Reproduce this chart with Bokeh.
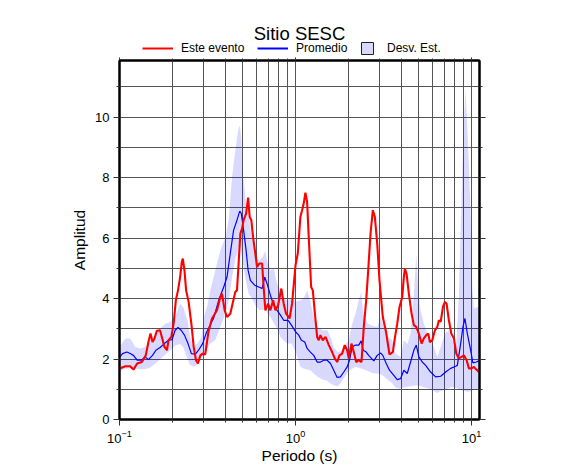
from bokeh.plotting import figure
from bokeh.layouts import column
from bokeh.models import (Range1d, LogAxis, LinearAxis, FixedTicker,
                          Legend, LegendItem, Label)
from bokeh.embed import file_html
from bokeh.resources import INLINE

# ---------------- data ----------------
event_period = [0.100, 0.108, 0.115, 0.120, 0.126, 0.134, 0.141, 0.146, 0.150, 0.154,
                0.158, 0.163, 0.170, 0.174, 0.180, 0.186, 0.190, 0.197, 0.203, 0.209,
                0.215, 0.221, 0.226, 0.229, 0.234, 0.239, 0.247, 0.256, 0.264, 0.272,
                0.279, 0.288, 0.297, 0.307, 0.320, 0.335, 0.358, 0.374, 0.382, 0.396,
                0.408, 0.426, 0.439, 0.455, 0.465, 0.475, 0.486, 0.497, 0.507, 0.524,
                0.538, 0.549, 0.561, 0.574, 0.591, 0.605, 0.623, 0.646, 0.659, 0.674,
                0.699, 0.720, 0.746, 0.769, 0.796, 0.831, 0.857, 0.884, 0.925, 0.956,
                1.00, 1.03, 1.066, 1.090, 1.113, 1.138, 1.164, 1.189, 1.227, 1.254,
                1.289, 1.327, 1.355, 1.386, 1.428, 1.481, 1.546, 1.615, 1.671, 1.724,
                1.777, 1.841, 1.905, 1.966, 2.007, 2.080, 2.143, 2.212, 2.288, 2.371,
                2.443, 2.521, 2.588, 2.668, 2.750, 2.823, 2.912, 3.000, 3.133, 3.268,
                3.420, 3.572, 3.669, 3.784, 3.899, 4.040, 4.126, 4.182, 4.274, 4.405,
                4.564, 4.703, 4.853, 5.021, 5.202, 5.361, 5.532, 5.679, 5.802, 5.985,
                6.195, 6.390, 6.525, 6.680, 6.880, 7.062, 7.217, 7.438, 7.675, 7.941,
                8.195, 8.479, 8.784, 9.053, 9.379, 9.665, 10.01, 10.32, 10.65, 11.02]
event_amp = [1.69, 1.76, 1.76, 1.65, 1.85, 1.90, 2.12, 2.56, 2.84, 2.56,
             2.68, 2.93, 2.95, 2.73, 2.40, 2.29, 2.62, 2.73, 3.17, 3.94,
             4.27, 4.71, 5.21, 5.32, 4.93, 4.27, 3.89, 3.17, 2.40, 1.96,
             1.85, 2.12, 2.18, 2.15, 2.90, 3.33, 3.61, 4.05, 4.16, 3.61,
             3.39, 3.50, 3.83, 4.22, 4.27, 5.16, 6.15, 6.31, 6.59, 6.81,
             7.34, 6.70, 6.59, 6.03, 5.49, 5.04, 5.16, 5.16, 4.38, 3.61,
             3.83, 3.61, 3.94, 3.61, 3.78, 4.33, 3.83, 3.50, 3.34, 3.83,
             5.10, 5.49, 6.70, 6.92, 7.14, 7.50, 7.19, 6.03, 4.38, 4.27,
             3.50, 2.73, 2.62, 2.79, 2.62, 2.73, 2.46, 2.23, 2.02, 1.90,
             2.12, 2.18, 2.46, 2.29, 2.02, 2.51, 2.23, 1.90, 1.96, 1.90,
             3.06, 3.94, 4.93, 6.15, 6.92, 6.70, 5.82, 4.60, 3.39, 2.90,
             2.15, 2.23, 2.70, 3.17, 3.72, 4.05, 4.71, 4.99, 4.82, 4.16,
             3.50, 3.12, 3.06, 2.84, 2.51, 2.68, 2.79, 2.84, 2.56, 2.62,
             2.95, 3.06, 3.28, 3.23, 3.72, 3.89, 3.83, 3.28, 2.84, 2.68,
             2.18, 2.02, 2.07, 2.12, 1.96, 1.69, 1.69, 1.74, 1.65, 1.57]

mean_period = [0.100, 0.104, 0.110, 0.115, 0.120, 0.126, 0.133, 0.140, 0.146, 0.154,
               0.161, 0.170, 0.180, 0.190, 0.199, 0.207, 0.215, 0.224, 0.234, 0.245,
               0.256, 0.270, 0.281, 0.297, 0.310, 0.325, 0.343, 0.366, 0.391, 0.408,
               0.426, 0.445, 0.465, 0.482, 0.492, 0.507, 0.524, 0.538, 0.554, 0.586,
               0.618, 0.646, 0.668, 0.689, 0.720, 0.752, 0.786, 0.821, 0.857, 0.908,
               0.948, 1.00, 1.043, 1.080, 1.129, 1.164, 1.215, 1.269, 1.327, 1.386,
               1.447, 1.513, 1.580, 1.649, 1.724, 1.800, 1.880, 1.966, 2.026, 2.099,
               2.191, 2.288, 2.361, 2.424, 2.521, 2.602, 2.785, 2.912, 3.041, 3.133,
               3.276, 3.420, 3.619, 3.784, 3.952, 4.126, 4.313, 4.505, 4.703, 4.853,
               5.021, 5.250, 5.486, 5.856, 6.250, 6.680, 7.127, 7.610, 8.126, 8.302,
               8.675, 8.940, 9.177, 9.465, 9.886, 10.18, 10.65, 11.02]
mean_amp = [2.05, 2.18, 2.23, 2.18, 2.12, 1.96, 1.96, 2.07, 1.98, 2.12,
            2.29, 2.38, 2.51, 2.62, 2.64, 2.95, 3.04, 2.95, 2.79, 2.51,
            2.18, 2.16, 2.29, 2.51, 2.84, 3.08, 3.36, 3.94, 4.38, 4.71,
            5.49, 6.26, 6.59, 6.89, 6.81, 6.26, 5.59, 4.93, 4.60, 4.44,
            4.38, 4.33, 4.71, 4.49, 4.11, 3.78, 3.61, 3.45, 3.28, 3.28,
            3.12, 2.90, 2.79, 2.62, 2.56, 2.35, 2.23, 2.12, 1.90, 1.90,
            1.96, 1.96, 1.85, 1.63, 1.39, 1.41, 1.57, 1.74, 1.96, 2.40,
            2.46, 2.46, 2.60, 2.29, 2.23, 2.12, 1.94, 2.12, 2.20, 2.12,
            1.85, 1.63, 1.46, 1.32, 1.35, 1.63, 1.52, 1.90, 2.29, 2.46,
            2.07, 1.90, 1.79, 1.57, 1.41, 1.43, 1.57, 1.69, 1.76, 1.79,
            2.51, 3.06, 3.34, 2.84, 2.29, 1.87, 1.90, 1.94]

band_period = [0.100, 0.108, 0.115, 0.123, 0.131, 0.140, 0.150, 0.160, 0.170, 0.182,
               0.194, 0.207, 0.221, 0.230, 0.243, 0.252, 0.263, 0.277, 0.292, 0.301,
               0.315, 0.328, 0.350, 0.374, 0.399, 0.417, 0.436, 0.455, 0.472, 0.482,
               0.492, 0.501, 0.514, 0.526, 0.542, 0.566, 0.591, 0.623, 0.651, 0.674,
               0.689, 0.720, 0.752, 0.786, 0.821, 0.857, 0.899, 0.948, 1.000, 1.066,
               1.109, 1.168, 1.215, 1.269, 1.327, 1.422, 1.519, 1.580, 1.649, 1.731,
               1.800, 1.905, 2.007, 2.099, 2.191, 2.288, 2.361, 2.424, 2.578, 2.738,
               2.912, 3.041, 3.175, 3.363, 3.544, 3.701, 3.952, 4.126, 4.330, 4.505,
               4.703, 4.853, 5.000, 5.135, 5.361, 5.724, 6.111, 6.390, 6.680, 7.062,
               7.438, 7.776, 8.195, 8.479, 8.784, 9.053, 9.245, 9.465, 9.881, 10.10,
               10.32, 10.79, 11.10]
band_upper = [2.40, 2.68, 2.68, 2.40, 2.35, 2.40, 2.62, 2.78, 3.01, 3.17,
              3.22, 3.39, 3.83, 3.72, 3.30, 2.73, 2.40, 2.51, 2.73, 3.39,
              3.75, 4.27, 4.93, 5.59, 6.03, 6.59, 8.02, 8.90, 9.56, 9.73,
              9.30, 8.24, 7.58, 7.00, 6.70, 6.03, 5.49, 5.26, 5.37, 5.59,
              5.26, 4.93, 4.99, 4.49, 4.27, 4.05, 3.94, 4.00, 3.90, 3.94,
              4.00, 4.27, 3.89, 3.39, 3.06, 2.95, 2.95, 2.73, 2.40, 2.23,
              2.25, 2.46, 2.62, 3.17, 3.50, 3.94, 4.22, 3.50, 3.17, 3.10,
              3.06, 3.39, 3.06, 2.73, 2.62, 2.18, 2.07, 2.62, 2.50, 2.84,
              4.16, 5.43, 4.16, 3.61, 3.17, 2.73, 2.40, 2.07, 2.40, 2.84,
              2.95, 2.62, 2.51, 4.16, 7.47, 9.89, 10.88, 9.67, 6.92, 4.38,
              3.67, 3.72, 3.73]
band_lower = [1.57, 1.69, 1.69, 1.69, 1.66, 1.66, 1.72, 1.85, 1.98, 2.15,
              2.28, 2.45, 2.50, 2.40, 2.00, 1.80, 1.74, 1.80, 2.02, 2.15,
              2.35, 2.51, 2.62, 3.06, 3.50, 3.90, 4.70, 5.30, 5.60, 5.82,
              5.50, 5.20, 4.80, 4.50, 4.16, 4.00, 3.78, 3.62, 3.62, 3.65,
              3.55, 3.39, 3.20, 3.00, 2.73, 2.60, 2.51, 2.51, 2.25, 1.74,
              1.69, 1.65, 1.63, 1.52, 1.42, 1.32, 1.28, 1.19, 1.13, 1.10,
              1.19, 1.41, 1.60, 1.68, 1.74, 1.71, 1.69, 1.66, 1.60, 1.54,
              1.52, 1.50, 1.42, 1.30, 1.20, 1.05, 1.02, 1.06, 1.08, 1.10,
              1.12, 1.13, 1.12, 1.10, 1.07, 1.02, 0.94, 0.88, 0.94, 0.98,
              1.03, 1.08, 1.04, 1.00, 0.97, 0.95, 0.93, 0.91, 0.93, 0.97,
              0.99, 1.01, 1.02]

x_major_ticks = [0.1, 1, 10]
x_minor_ticks = [0.2, 0.3, 0.4, 0.5, 0.6, 0.7, 0.8, 0.9, 2, 3, 4, 5, 6, 7, 8, 9]
y_major_ticks = [0, 2, 4, 6, 8, 10]
y_minor_ticks = [1, 3, 5, 7, 9, 11]

title_text = "Sitio SESC"
x_label = "Periodo (s)"
y_label = "Amplitud"
legend_labels = ["Este evento", "Promedio", "Desv. Est."]

FONT = "Liberation Sans"
GRID = "#555555"
RED = "#ff0000"
BLUE = "#0000ff"
BOX = "#d8d8fa"

# ---------------- header (title + legend) ----------------
head = figure(width=578, height=55, min_border=0, x_axis_type=None, y_axis_type=None,
              x_range=Range1d(0, 1), y_range=Range1d(0, 1),
              output_backend="svg", toolbar_location=None)
head.outline_line_color = None
head.background_fill_color = "white"
head.border_fill_color = "white"
head.grid.visible = False

head.add_layout(Label(x=180, y=22.5, x_units="screen", y_units="screen",
                      text=title_text, text_align="center", text_baseline="alphabetic",
                      text_font=FONT, text_font_size="18.5px", text_color="black"))

h_event = head.line(x=[5, 6], y=[5, 5], line_color=RED, line_width=2)
h_mean = head.line(x=[5, 6], y=[5, 5], line_color=BLUE, line_width=2)
h_box = head.scatter(x=[5], y=[5], marker="square", size=12,
                     fill_color=BOX, line_color="#222222", line_width=1)


def head_legend(label, renderer, x, y, gw, gh, standoff):
    lg = Legend(items=[LegendItem(label=label, renderers=[renderer])],
                location=(x, y), orientation="horizontal",
                glyph_width=gw, glyph_height=gh, label_height=gh,
                label_standoff=standoff, padding=0, margin=0, spacing=0,
                border_line_color=None, background_fill_alpha=0,
                label_text_font=FONT, label_text_font_size="12px",
                label_text_color="black")
    head.add_layout(lg)


head_legend(legend_labels[0], h_event, 23, 0.5, 31, 14, 8)
head_legend(legend_labels[1], h_mean, 138, 0.5, 31, 14, 8)
head_legend(legend_labels[2], h_box, 233, -7.5, 30, 30, 5)

# ---------------- main plot ----------------
p = figure(width=578, height=420, x_axis_type="log",
           x_range=Range1d(0.1, 11.1), y_range=Range1d(0, 11.87),
           output_backend="svg", toolbar_location=None,
           min_border_left=119, min_border_right=99, min_border_top=5,
           min_border_bottom=56)
p.outline_line_color = "black"
p.outline_line_width = 2
p.background_fill_color = "white"
p.border_fill_color = "white"

xt = FixedTicker(ticks=x_major_ticks, minor_ticks=x_minor_ticks)
yt = FixedTicker(ticks=y_major_ticks, minor_ticks=y_minor_ticks)

bottom = p.below[0]
left = p.left[0]
bottom.ticker = xt
left.ticker = yt
top = LogAxis(ticker=xt)
right = LinearAxis(ticker=yt)
p.add_layout(top, "above")
p.add_layout(right, "right")

for ax in (bottom, left, top, right):
    ax.axis_line_color = "black"
    ax.axis_line_width = 2
    ax.major_tick_line_color = "#333333"
    ax.minor_tick_line_color = "#333333"
    ax.major_tick_out = 6
    ax.major_tick_in = 0
    ax.minor_tick_out = 3
    ax.minor_tick_in = 0
    ax.major_label_text_font = FONT
    ax.major_label_text_font_size = "13px"
    ax.major_label_text_color = "black"
    ax.axis_label_text_font = FONT
    ax.axis_label_text_font_size = "15.5px"
    ax.axis_label_text_font_style = "normal"
    ax.axis_label_text_color = "black"

for ax in (top, right):
    ax.major_label_text_font_size = "1px"
    ax.major_label_text_color = None
    ax.major_label_standoff = 0
top.major_tick_out = 3
top.minor_tick_out = 2

bottom.axis_label = x_label
left.axis_label = y_label
bottom.major_label_standoff = 4
left.major_label_standoff = 4
bottom.axis_label_standoff = 1
left.axis_label_standoff = 4

p.xgrid.ticker = xt
p.ygrid.ticker = yt
for g in (p.xgrid[0], p.ygrid[0]):
    g.grid_line_color = GRID
    g.grid_line_width = 1
    g.minor_grid_line_color = GRID
    g.minor_grid_line_width = 1

p.varea(x=band_period, y1=band_lower, y2=band_upper,
        fill_color=BLUE, fill_alpha=0.15)
p.line(mean_period, mean_amp, line_color=BLUE, line_width=1.2)
p.line(event_period, event_amp, line_color=RED, line_width=2.1)

layout = column(head, p, spacing=0)
open("out.html", "w").write(file_html(layout, INLINE))
